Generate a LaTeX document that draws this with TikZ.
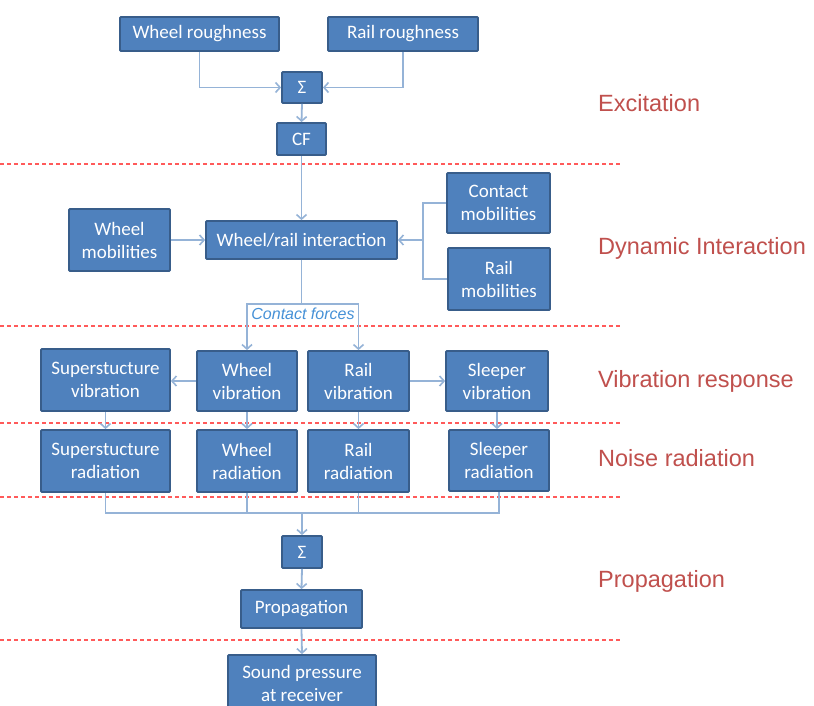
\documentclass[tikz,border=0pt]{standalone}
\usepackage{fontspec}
\setmainfont{Carlito}
\newfontfamily\labfont{Liberation Sans}
\usetikzlibrary{arrows.meta}
\definecolor{boxfill}{RGB}{79,129,189}
\definecolor{boxline}{RGB}{56,93,138}
\definecolor{connc}{RGB}{149,179,215}
\definecolor{sepred}{RGB}{255,90,90}
\definecolor{labred}{RGB}{192,80,77}
\definecolor{cfblue}{RGB}{70,145,215}
\tikzset{
  box/.style={draw=boxline, fill=boxfill, line width=1.8pt, rounded corners=1pt,
    text=white, align=center, inner sep=0pt,
    font=\fontsize{19}{23}\selectfont},
  conn/.style={draw=connc, line width=1.8pt},
  arr/.style={conn, -{Straight Barb[length=4.5pt,width=10pt,line width=1.6pt]}},
  sep/.style={draw=sepred, line width=1.4pt, dash pattern=on 4pt off 3pt},
  stage/.style={text=labred, anchor=west, inner sep=0pt,
    font=\labfont\fontsize{23.5}{27}\selectfont},
  cflabel/.style={text=cfblue, inner sep=0pt,
    font=\labfont\itshape\fontsize{16}{19}\selectfont}
}
\begin{document}
\begin{tikzpicture}[x=1pt,y=-1pt]
\clip (0,0) rectangle (814,706);
\fill[white] (0,0) rectangle (814,706);

% separators
\draw[sep] (0,164) -- (622,164);
\draw[sep] (0,326) -- (622,326);
\draw[sep] (0,423) -- (622,423);
\draw[sep] (0,497) -- (622,497);
\draw[sep] (0,640) -- (622,640);

% stage labels
\node[stage] (lexc) at (598,103) {Excitation};
\node[stage] (ldyn) at (598,248) {Dynamic Interaction};
\node[stage] (lvib) at (598,381) {Vibration response};
\node[stage] (lnoi) at (598,458) {Noise radiation};
\node[stage] (lpro) at (598,581) {Propagation};

% boxes
\node[box, minimum width=159pt, minimum height=34pt] (WR) at (199.5,34) {Wheel roughness};
\node[box, minimum width=150pt, minimum height=34pt] (RR) at (403,34) {Rail roughness};
\node[box, minimum width=40pt, minimum height=31pt] (S1) at (302,87.5) {Σ};
\node[box, minimum width=49pt, minimum height=32pt] (CF) at (301.5,139) {CF};
\node[box, minimum width=101pt, minimum height=62pt] (WM) at (119.5,240) {Wheel\\mobilities};
\node[box, minimum width=191pt, minimum height=38pt] (WRI) at (301.5,240) {Wheel/rail interaction};
\node[box, minimum width=103pt, minimum height=60pt] (CM) at (498.5,203) {Contact\\mobilities};
\node[box, minimum width=102pt, minimum height=62pt] (RM) at (499,279) {Rail\\mobilities};
\node[box, minimum width=129pt, minimum height=62pt] (SV) at (105.5,380) {Superstucture\\vibration};
\node[box, minimum width=100pt, minimum height=60pt] (WV) at (247,381) {Wheel\\vibration};
\node[box, minimum width=101pt, minimum height=60pt] (RV) at (358.5,381) {Rail\\vibration};
\node[box, minimum width=102pt, minimum height=60pt] (SlV) at (497,381) {Sleeper\\vibration};
\node[box, minimum width=129pt, minimum height=62pt] (SR) at (105.5,461) {Superstucture\\radiation};
\node[box, minimum width=100pt, minimum height=62pt] (WRad) at (247,461) {Wheel\\radiation};
\node[box, minimum width=101pt, minimum height=62pt] (RRad) at (358.5,461) {Rail\\radiation};
\node[box, minimum width=100pt, minimum height=61pt] (SlR) at (499,460.5) {Sleeper\\radiation};
\node[box, minimum width=40pt, minimum height=32pt] (S2) at (302,552) {Σ};
\node[box, minimum width=121pt, minimum height=38pt] (P) at (301.5,609) {Propagation};
\node[box, minimum width=148pt, minimum height=57pt] (SP) at (302,683.5) {Sound pressure\\at receiver};

% excitation connectors
\draw[arr] (WR.south) |- (S1.west);
\draw[arr] (RR.south) |- (S1.east);
\draw[arr] (S1.south) -- (CF.north);
\draw[arr] (CF.south) -- (WRI.north);

% dynamic interaction
\draw[arr] (WM.east) -- (WRI.west);
\coordinate (bx) at (423,240);
\draw[conn] (CM.west) -| (bx);
\draw[conn] (RM.west) -| (bx);
\draw[arr] (bx) -- (WRI.east);

% contact forces
\coordinate (cfy) at (301.5,304);
\draw[conn] (WRI.south) -- (cfy);
\draw[arr] (cfy) -| (WV.north);
\draw[arr] (cfy) -| (RV.north);
\node[cflabel] (cft) at (303,313.5) {Contact forces};

% vibration
\draw[arr] (WV.west) -- (SV.east |- WV.west);
\draw[arr] (RV.east) -- (SlV.west |- RV.east);
\draw[arr] (SV.south) -- (SV.south |- SR.north);
\draw[arr] (WV.south) -- (WV.south |- WRad.north);
\draw[arr] (RV.south) -- (RV.south |- RRad.north);
\draw[arr] (SlV.south) -- (SlV.south |- SlR.north);

% collection
\coordinate (cy) at (302,513);
\draw[conn] (SR.south) -- (SR.south |- cy) -- (SlR.south |- cy) -- (SlR.south);
\draw[conn] (WRad.south) -- (WRad.south |- cy);
\draw[conn] (RRad.south) -- (RRad.south |- cy);
\draw[arr] (cy) -- (S2.north);
\draw[arr] (S2.south) -- (P.north);
\draw[arr] (P.south) -- (SP.north);
\end{tikzpicture}
\end{document}
